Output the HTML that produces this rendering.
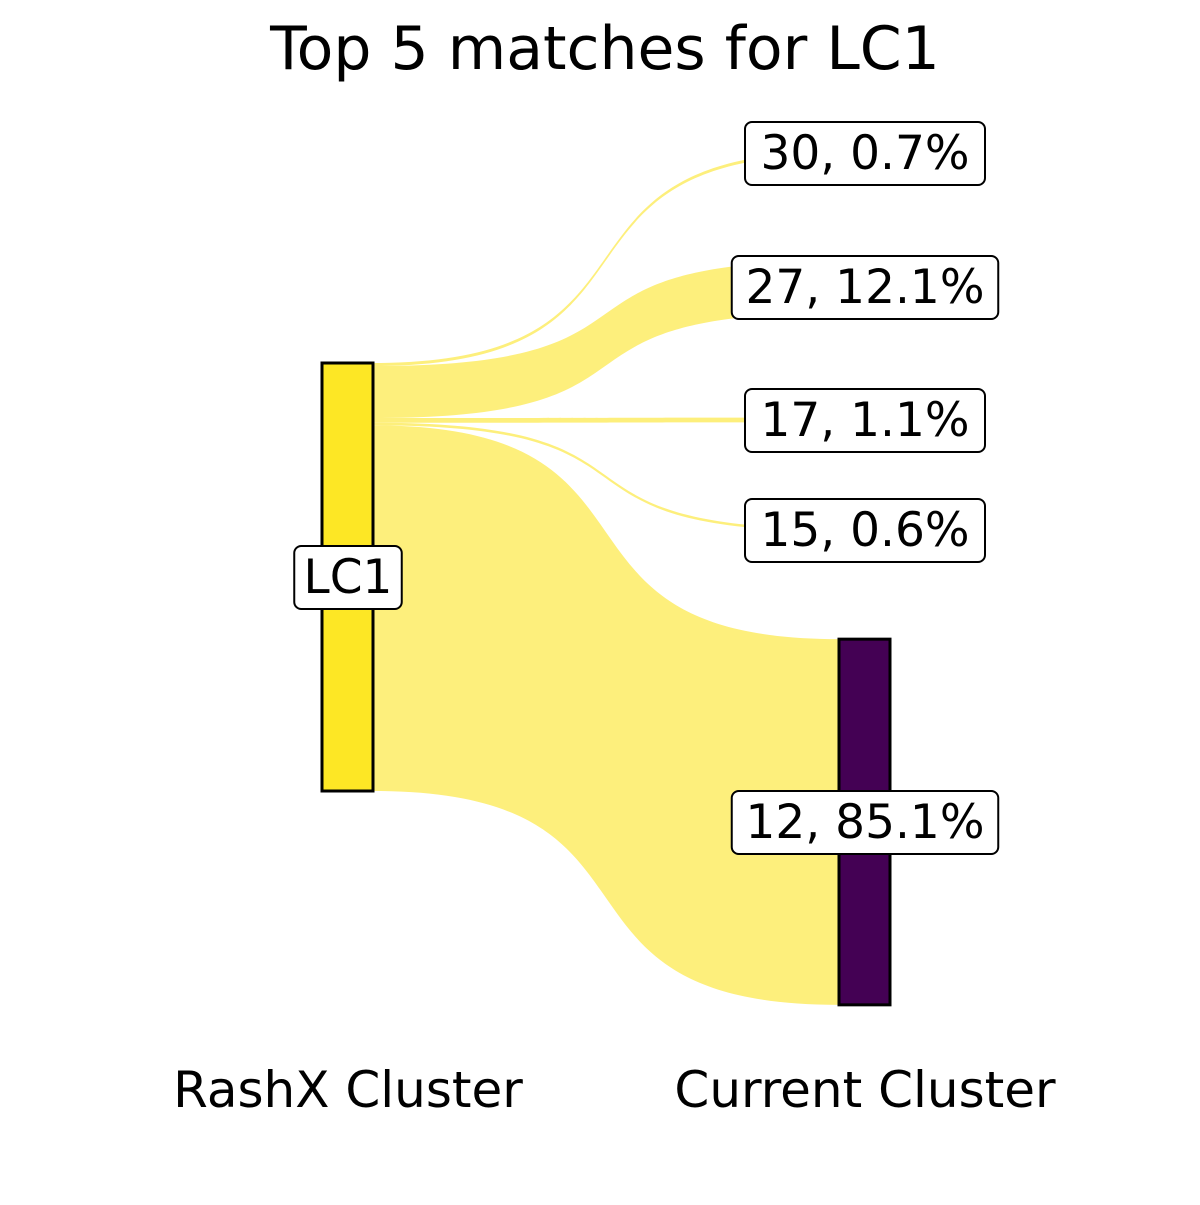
<!DOCTYPE html>
<html><head><meta charset="utf-8"><style>
body{margin:0;background:#fff;}
svg text{font-family:"DejaVu Sans","Liberation Sans",sans-serif;}
</style></head><body>
<svg id="chart" width="1200" height="1200" viewBox="0 0 1200 1200">
<rect width="1200" height="1200" fill="#fff"/>
<text x="605" y="69" font-size="60" text-anchor="middle">Top 5 matches for LC1</text>
<g id="flows"></g>
<g id="strata"></g>
<g id="labels"></g>
<text x="348" y="1107" font-size="50" text-anchor="middle">RashX Cluster</text>
<text x="865" y="1107" font-size="50" text-anchor="middle">Current Cluster</text>
</svg>
<script>
const categories = ["30","27","17","15","12"];
const percents = [0.7, 12.1, 1.1, 0.6, 85.1];
const rightCenters = [153, 287, 420, 530, 822];
const NS="http://www.w3.org/2000/svg";
const pxPerPct = 428/99.6;
const leftX0=322, leftX1=373, rightX0=839, rightX1=890, leftTop=363;
function h(p){return p*pxPerPct;}
const flows=document.getElementById('flows');
const strata=document.getElementById('strata');
const labels=document.getElementById('labels');
let y=leftTop;
let total=0;
for(let i=0;i<categories.length;i++){
  const hh=h(percents[i]);
  const a0=y, a1=y+hh;
  const b0=rightCenters[i]-hh/2, b1=rightCenters[i]+hh/2;
  const dx=rightX0-leftX1;
  const c1=leftX1+0.68*dx, c2=rightX0-0.68*dx;
  const p=document.createElementNS(NS,'path');
  p.setAttribute('d',`M${leftX1},${a0} C${c1},${a0} ${c2},${b0} ${rightX0},${b0} L${rightX0},${b1} C${c2},${b1} ${c1},${a1} ${leftX1},${a1} Z`);
  p.setAttribute('fill','#fdef7c');
  
  
  flows.appendChild(p);
  y=a1; total+=hh;
}
const lb=document.createElementNS(NS,'rect');
lb.setAttribute('x',leftX0);lb.setAttribute('y',leftTop);lb.setAttribute('width',leftX1-leftX0);lb.setAttribute('height',total);
lb.setAttribute('fill','#fde725');lb.setAttribute('stroke','#000');lb.setAttribute('stroke-width','3');


strata.appendChild(lb);
const last=categories.length-1;
const rh=h(percents[last]);
const rb=document.createElementNS(NS,'rect');
rb.setAttribute('x',rightX0);rb.setAttribute('y',rightCenters[last]-rh/2);rb.setAttribute('width',rightX1-rightX0);rb.setAttribute('height',rh);
rb.setAttribute('fill','#440154');rb.setAttribute('stroke','#000');rb.setAttribute('stroke-width','3');


strata.appendChild(rb);
function label(cx,cy,text,name){
  const g=document.createElementNS(NS,'g');
  
  
  const t=document.createElementNS(NS,'text');
  t.setAttribute('x',cx);t.setAttribute('y',cy+16);t.setAttribute('font-size','47');t.setAttribute('text-anchor','middle');
  t.textContent=text;
  g.appendChild(t);labels.appendChild(g);
  const w=text.length*26.5+28;
  const r=document.createElementNS(NS,'rect');
  r.setAttribute('x',cx-w/2);r.setAttribute('y',cy-31);r.setAttribute('width',w);r.setAttribute('height',63);
  r.setAttribute('rx','7');r.setAttribute('fill','#fff');r.setAttribute('stroke','#000');r.setAttribute('stroke-width','2');
  g.insertBefore(r,t);
}
label(348,577,'LC1','label-lc1');
for(let i=0;i<categories.length;i++){
  label(865,rightCenters[i],categories[i]+', '+percents[i].toFixed(1)+'%','label-'+categories[i]);
}
</script>
</body></html>
